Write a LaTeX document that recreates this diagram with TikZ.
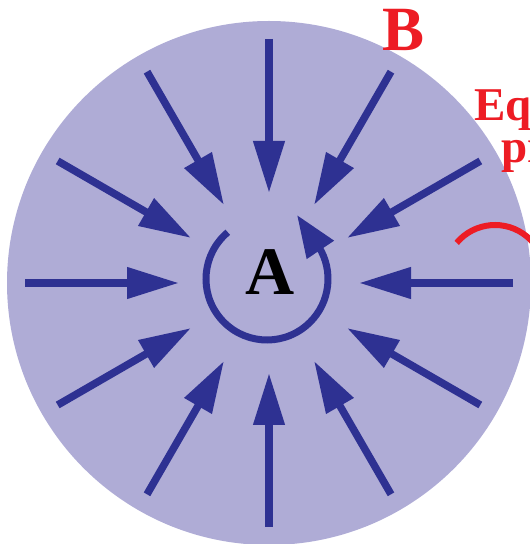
\documentclass[tikz,border=0pt]{standalone}
\usepackage{fontspec}
\setmainfont{Liberation Serif}
\usepackage{tikz}
\usetikzlibrary{arrows.meta, calc}
\definecolor{disc}{RGB}{175,172,214}
\definecolor{fieldblue}{RGB}{46,49,146}
\definecolor{labelred}{RGB}{237,28,36}

\begin{document}
\begin{tikzpicture}[x=1pt, y=1pt,
  field/.style={fieldblue, line width=7.5pt, -{Triangle[length=52pt, width=30pt]}},
  redlbl/.style={labelred, inner sep=0pt, font=\fontsize{47}{47}\selectfont\bfseries}]
\useasboundingbox (0,0) rectangle (530,544);
\coordinate (o) at (269,261);
\fill[disc] (o) circle (262);
\foreach \a in {0,30,...,330} {
  \coordinate (out\a) at ($(o)+(\a:244)$);
  \coordinate (in\a) at ($(o)+(\a:90)$);
  \draw[field] (out\a) -- (in\a);
}
% loop round A
\coordinate (c) at (267,265);
\coordinate (tip) at (297,329);
\draw[fieldblue, line width=7pt, -{Triangle[length=42pt, width=31pt]}]
  ($(c)+(130:61)$) arc[start angle=130, end angle=387, radius=61] -- (tip);
\node[inner sep=0pt, font=\fontsize{68}{68}\selectfont\bfseries] (A) at (270,271.5) {A};
\node[redlbl, font=\fontsize{63}{63}\selectfont\bfseries] (B) at (404,514) {B};
\node[redlbl, anchor=base west] (eq) at (474,423) {Eq};
\node[redlbl, anchor=base west] (pr) at (501,381) {pr};
\coordinate (rc) at (495,269);
\draw[labelred, line width=6pt] ($(rc)+(140:50)$) arc[start angle=140, end angle=20, radius=50];
\end{tikzpicture}
\end{document}
